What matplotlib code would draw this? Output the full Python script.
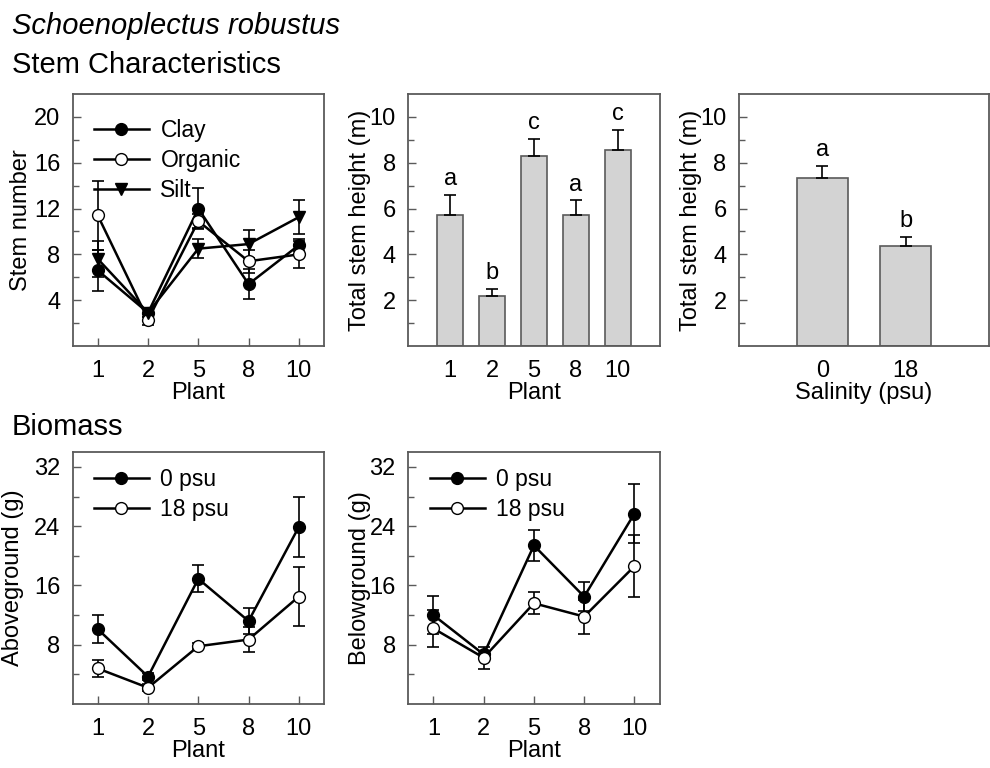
import matplotlib
matplotlib.use("Agg")
import matplotlib.pyplot as plt
import numpy as np

plt.rcParams['font.family'] = ['Liberation Sans', 'DejaVu Sans']

plants = ["1", "2", "5", "8", "10"]

# Stem number
clay = [6.6, 2.9, 12.0, 5.4, 8.8]
clay_err = [1.8, 0.4, 1.8, 1.3, 0.5]
organic = [11.4, 2.3, 10.9, 7.4, 8.0]
organic_err = [3.0, 0.5, 0.6, 1.0, 1.2]
silt = [7.6, 2.9, 8.5, 8.9, 11.25]
silt_err = [1.6, 0.4, 0.8, 1.2, 1.5]

# Total stem height by plant
height_plant = [5.74, 2.2, 8.28, 5.71, 8.55]
height_plant_err = [0.87, 0.3, 0.76, 0.65, 0.9]
height_plant_letters = ["a", "b", "c", "a", "c"]

# Total stem height by salinity
salinity = ["0", "18"]
height_sal = [7.32, 4.37]
height_sal_err = [0.56, 0.41]
height_sal_letters = ["a", "b"]

# Biomass
above_0 = [10.1, 3.7, 16.9, 11.2, 23.9]
above_0_err = [1.9, 0.5, 1.8, 1.8, 4.0]
above_18 = [4.8, 2.2, 7.8, 8.7, 14.5]
above_18_err = [1.2, 0.5, 0.4, 1.7, 4.0]
below_0 = [12.0, 6.7, 21.4, 14.5, 25.7]
below_0_err = [2.6, 0.5, 2.1, 2.0, 4.0]
below_18 = [10.2, 6.25, 13.6, 11.8, 18.6]
below_18_err = [2.5, 1.5, 1.5, 2.3, 4.2]

FS = 17
LFS = 16.5
TFS = 21
frame_c = "#5a5a5a"
fig = plt.figure(figsize=(9.9, 7.68), dpi=100)

W = 0.2538
H = 0.328
ax1 = fig.add_axes([0.0734, 0.5495, W, H])
ax2 = fig.add_axes([0.4124, 0.5495, W, H])
ax3 = fig.add_axes([0.7465, 0.5495, 0.2525, H])
ax4 = fig.add_axes([0.0734, 0.0833, W, H])
ax5 = fig.add_axes([0.4124, 0.0833, W, H])

def style(ax):
    for s in ax.spines.values():
        s.set_color(frame_c)
        s.set_linewidth(1.3)
    ax.tick_params(axis='both', which='both', direction='in', top=False, right=False,
                   color=frame_c, labelsize=FS)
    ax.tick_params(axis='both', which='major', length=6, width=1.0)
    ax.tick_params(axis='both', which='minor', length=4, width=1.0)
    ax.tick_params(axis='x', which='both', pad=10)
    ax.tick_params(axis='y', which='both', pad=9)

x = np.arange(len(plants))
ms = 8.5
lw = 1.8
ekw = dict(ecolor='black', elinewidth=1.2, capsize=4, capthick=1.2)
leg_kw = dict(loc='upper left', frameon=False, fontsize=LFS, handlelength=2.4,
              handletextpad=0.5, labelspacing=0.3, borderaxespad=0.2)

# Panel 1
style(ax1)
ax1.errorbar(x, clay, yerr=clay_err, color='black', lw=lw, marker='o', ms=ms,
             mfc='black', mec='black', label='Clay', **ekw)
ax1.errorbar(x, organic, yerr=organic_err, color='black', lw=lw, marker='o', ms=ms,
             mfc='white', mec='black', label='Organic', **ekw)
ax1.errorbar(x, silt, yerr=silt_err, color='black', lw=lw, marker='v', ms=ms,
             mfc='black', mec='black', label='Silt', **ekw)
ax1.set_xlim(-0.5, 4.5)
ax1.set_ylim(0, 22)
ax1.set_yticks([4, 8, 12, 16, 20])
ax1.set_yticks([2, 6, 10, 14, 18], minor=True)
ax1.set_xticks(x)
ax1.set_xticklabels(plants)
ax1.set_xlabel("Plant", fontsize=FS, labelpad=0)
ax1.set_ylabel("Stem number", fontsize=FS, labelpad=1)
h, l = ax1.get_legend_handles_labels()
ax1.legend([hh[0] for hh in h], l, bbox_to_anchor=(0.03, 0.955), **leg_kw)

# Panel 2
style(ax2)
ax2.bar(x, height_plant, width=0.62, color='#d3d3d3', edgecolor=frame_c, lw=1.2)
ax2.errorbar(x, height_plant, yerr=[np.zeros(len(x)), height_plant_err], fmt='none', **ekw)
for xi, v, e, t in zip(x, height_plant, height_plant_err, height_plant_letters):
    ax2.text(xi, v + e + 0.2, t, ha='center', va='bottom', fontsize=FS)
ax2.set_xlim(-1, 5)
ax2.set_ylim(0, 11)
ax2.set_yticks([2, 4, 6, 8, 10])
ax2.set_yticks([1, 3, 5, 7, 9], minor=True)
ax2.set_xticks(x)
ax2.set_xticklabels(plants)
ax2.tick_params(axis='x', which='both', length=0)
ax2.set_xlabel("Plant", fontsize=FS, labelpad=0)
ax2.set_ylabel("Total stem height (m)", fontsize=FS)
ax2.yaxis.set_label_coords(-0.15, 0.5)

# Panel 3
style(ax3)
xs = np.arange(len(salinity))
ax3.bar(xs, height_sal, width=0.61, color='#d3d3d3', edgecolor=frame_c, lw=1.2)
ax3.errorbar(xs, height_sal, yerr=[np.zeros(len(xs)), height_sal_err], fmt='none', **ekw)
for xi, v, e, t in zip(xs, height_sal, height_sal_err, height_sal_letters):
    ax3.text(xi, v + e + 0.2, t, ha='center', va='bottom', fontsize=FS)
ax3.set_xlim(-1, 2)
ax3.set_ylim(0, 11)
ax3.set_yticks([2, 4, 6, 8, 10])
ax3.set_yticks([1, 3, 5, 7, 9], minor=True)
ax3.set_xticks(xs)
ax3.set_xticklabels(salinity)
ax3.tick_params(axis='x', which='both', length=0)
ax3.set_xlabel("Salinity (psu)", fontsize=FS, labelpad=0)
ax3.set_ylabel("Total stem height (m)", fontsize=FS)
ax3.yaxis.set_label_coords(-0.15, 0.5)

# Panels 4 & 5
for ax, d0, e0, d18, e18, lab, lc in [
        (ax4, above_0, above_0_err, above_18, above_18_err, "Aboveground (g)", -0.195),
        (ax5, below_0, below_0_err, below_18, below_18_err, "Belowground (g)", -0.15)]:
    style(ax)
    ax.errorbar(x, d0, yerr=e0, color='black', lw=lw, marker='o', ms=ms,
                mfc='black', mec='black', label='0 psu', **ekw)
    ax.errorbar(x, d18, yerr=e18, color='black', lw=lw, marker='o', ms=ms,
                mfc='white', mec='black', label='18 psu', **ekw)
    ax.set_xlim(-0.5, 4.5)
    ax.set_ylim(0, 34)
    ax.set_yticks([8, 16, 24, 32])
    ax.set_yticks([4, 12, 20, 28], minor=True)
    ax.set_xticks(x)
    ax.set_xticklabels(plants)
    ax.set_xlabel("Plant", fontsize=FS, labelpad=0)
    ax.set_ylabel(lab, fontsize=FS)
    ax.yaxis.set_label_coords(lc, 0.5)
    h, l = ax.get_legend_handles_labels()
    ax.legend([hh[0] for hh in h], l, bbox_to_anchor=(0.03, 0.99), **leg_kw)

fig.text(0.012, 0.966, "Schoenoplectus robustus", fontsize=TFS, style='italic', va='center')
fig.text(0.012, 0.915, "Stem Characteristics", fontsize=TFS, va='center')
fig.text(0.012, 0.444, "Biomass", fontsize=TFS, va='center')

fig.savefig("out.png", dpi=100)
